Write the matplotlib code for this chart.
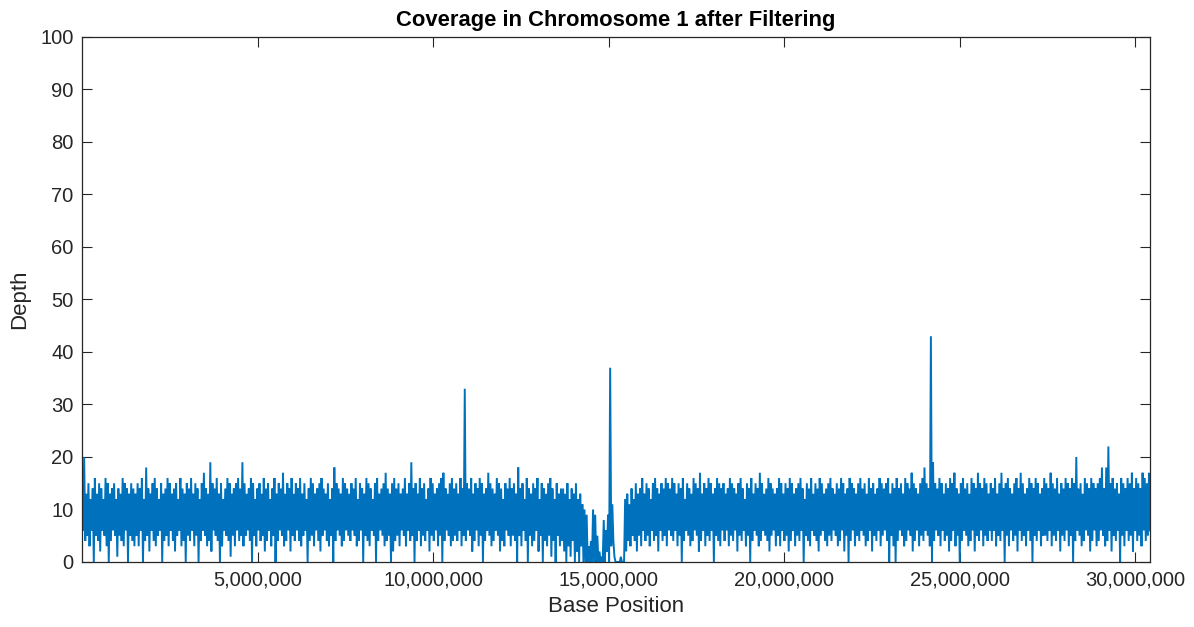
import numpy as np
import matplotlib.pyplot as plt
from matplotlib.ticker import FuncFormatter

# Chromosome 1 length and tick positions
CHROM_LEN = 30427671
xtick_pos = [5000000, 10000000, 15000000, 20000000, 25000000, 30000000]
ytick_pos = [0, 10, 20, 30, 40, 50, 60, 70, 80, 90, 100]

# Depth trace read off the picture as alternating local highs / lows
# (one high + one low per ~61 kb window, 500 windows along the chromosome)
peaks = [
    14, 20, 13, 15, 12, 14, 16, 13, 15, 14, 12, 16, 15, 13, 14, 15, 12, 14, 13, 16, 15, 14, 13, 15, 14,
    13, 15, 14, 16, 12, 18, 14, 13, 15, 16, 14, 12, 15, 13, 14, 16, 15, 13, 14, 15, 12, 16, 14, 13, 15,
    14, 16, 13, 15, 14, 12, 15, 17, 14, 13, 19, 15, 14, 16, 13, 15, 12, 14, 16, 15, 13, 14, 15, 16, 14,
    19, 15, 13, 14, 16, 15, 12, 14, 15, 13, 16, 14, 15, 12, 14, 16, 13, 15, 14, 17, 13, 15, 14, 16, 13,
    15, 14, 16, 13, 15, 12, 14, 16, 15, 13, 14, 15, 16, 14, 13, 15, 12, 14, 18, 15, 14, 13, 16, 15, 14,
    13, 15, 14, 16, 12, 15, 14, 13, 16, 15, 14, 12, 15, 16, 13, 14, 15, 17, 14, 13, 15, 16, 14, 15, 13,
    14, 16, 13, 15, 19, 14, 15, 13, 16, 14, 15, 12, 14, 16, 15, 13, 14, 15, 16, 17, 14, 13, 15, 16, 14,
    15, 13, 16, 14, 33, 15, 14, 16, 13, 15, 14, 16, 15, 13, 14, 17, 15, 14, 13, 16, 15, 14, 12, 15, 14,
    16, 14, 15, 13, 18, 14, 15, 12, 16, 14, 13, 15, 14, 16, 12, 15, 14, 13, 15, 16, 14, 12, 15, 13, 14,
    14, 13, 15, 12, 14, 13, 15, 12, 13, 11, 10, 9, 3, 4, 10, 9, 5, 2, 1, 8, 6, 9, 37, 11, 1,
    0, 0, 1, 0, 12, 13, 11, 14, 12, 15, 13, 14, 16, 13, 15, 14, 12, 15, 16, 14, 13, 15, 14, 16, 15,
    14, 16, 15, 13, 15, 14, 16, 12, 15, 14, 13, 16, 15, 14, 17, 13, 15, 14, 16, 15, 13, 14, 16, 15, 14,
    15, 13, 14, 16, 15, 14, 13, 15, 16, 14, 12, 15, 14, 16, 13, 15, 14, 17, 15, 13, 14, 16, 15, 14, 13,
    14, 16, 15, 13, 15, 14, 16, 15, 13, 14, 15, 16, 14, 12, 15, 14, 16, 13, 15, 14, 16, 15, 13, 14, 15,
    16, 14, 13, 15, 14, 16, 15, 13, 14, 16, 15, 14, 13, 15, 16, 14, 15, 13, 16, 14, 15, 13, 14, 16, 15,
    14, 15, 16, 13, 15, 14, 16, 14, 15, 13, 16, 15, 14, 17, 15, 14, 13, 15, 16, 18, 15, 14, 43, 19, 15,
    14, 16, 15, 13, 15, 14, 16, 15, 17, 14, 13, 15, 16, 14, 15, 13, 16, 15, 14, 17, 15, 14, 16, 15, 13,
    15, 14, 16, 13, 15, 17, 14, 15, 16, 14, 13, 15, 16, 14, 17, 15, 13, 14, 16, 15, 14, 16, 15, 13, 14,
    16, 15, 14, 17, 15, 14, 16, 13, 15, 14, 16, 15, 14, 16, 15, 20, 14, 15, 13, 16, 15, 14, 16, 15, 14,
    15, 16, 18, 14, 18, 22, 15, 16, 14, 15, 13, 16, 15, 14, 16, 15, 17, 14, 16, 15, 14, 17, 16, 15, 17,
]
troughs = [
    6, 4, 5, 3, 6, 0, 5, 4, 2, 6, 5, 3, 0, 4, 6, 5, 1, 5, 4, 3, 6, 0, 5, 4, 3,
    5, 3, 6, 0, 4, 5, 2, 6, 4, 3, 5, 6, 0, 4, 5, 3, 6, 4, 2, 5, 6, 3, 4, 0, 5,
    4, 6, 3, 5, 0, 4, 6, 5, 3, 4, 2, 6, 5, 4, 0, 3, 6, 5, 4, 1, 5, 3, 6, 4, 5,
    3, 5, 6, 4, 0, 5, 3, 6, 4, 5, 2, 4, 6, 3, 5, 0, 4, 6, 5, 3, 4, 6, 2, 5, 4,
    6, 4, 3, 5, 6, 0, 4, 5, 3, 6, 4, 2, 5, 6, 4, 3, 5, 0, 4, 6, 5, 3, 4, 6, 5,
    4, 6, 5, 3, 4, 6, 0, 5, 4, 3, 6, 5, 0, 4, 6, 5, 3, 4, 5, 0, 2, 4, 5, 3, 6,
    5, 3, 6, 4, 5, 0, 4, 6, 3, 5, 4, 6, 2, 5, 4, 6, 3, 5, 0, 4, 6, 5, 3, 4, 5,
    4, 6, 3, 5, 4, 6, 5, 2, 4, 6, 3, 5, 0, 4, 6, 5, 3, 4, 6, 5, 2, 4, 3, 6, 5,
    3, 5, 4, 0, 5, 3, 6, 4, 0, 5, 3, 4, 6, 2, 5, 0, 4, 3, 5, 1, 4, 0, 5, 3, 4,
    2, 0, 3, 1, 4, 0, 2, 0, 3, 0, 0, 0, 0, 0, 0, 0, 0, 0, 0, 0, 2, 0, 3, 4, 0,
    0, 0, 0, 0, 2, 4, 3, 5, 4, 2, 5, 3, 6, 4, 5, 3, 6, 4, 5, 2, 6, 4, 5, 3, 6,
    5, 4, 6, 3, 5, 0, 4, 6, 5, 3, 4, 6, 5, 2, 4, 6, 3, 5, 4, 6, 0, 5, 4, 3, 6,
    4, 6, 3, 5, 4, 6, 2, 5, 4, 6, 3, 5, 0, 4, 6, 5, 3, 4, 6, 5, 4, 2, 5, 6, 3,
    5, 3, 6, 4, 5, 2, 4, 6, 3, 5, 4, 6, 0, 5, 4, 3, 6, 5, 4, 2, 5, 6, 4, 3, 5,
    4, 6, 5, 3, 4, 6, 2, 5, 0, 4, 6, 3, 5, 4, 6, 5, 3, 4, 6, 2, 5, 4, 6, 3, 5,
    6, 4, 0, 5, 3, 0, 4, 6, 5, 3, 4, 6, 5, 2, 4, 6, 3, 5, 4, 6, 5, 3, 0, 4, 6,
    5, 3, 6, 4, 5, 2, 4, 6, 3, 5, 0, 4, 6, 5, 3, 4, 6, 2, 5, 4, 6, 3, 5, 4, 6,
    4, 6, 3, 5, 4, 6, 0, 5, 3, 6, 4, 5, 2, 6, 4, 5, 3, 6, 4, 0, 5, 4, 6, 3, 5,
    5, 4, 6, 3, 5, 4, 6, 2, 5, 4, 6, 3, 5, 0, 4, 6, 5, 3, 4, 6, 5, 2, 4, 6, 3,
    4, 6, 5, 3, 4, 6, 2, 5, 4, 6, 0, 5, 3, 6, 4, 5, 2, 6, 4, 5, 3, 6, 4, 5, 6,
]

# interleave highs and lows into one trace
depth = np.empty(2 * len(peaks))
depth[0::2] = peaks
depth[1::2] = troughs
pos = np.linspace(1, CHROM_LEN, len(depth))

AX_COLOR = '#262626'
plt.rcParams['font.family'] = ['Liberation Sans', 'DejaVu Sans']

fig = plt.figure(figsize=(11.94, 6.27), dpi=100)
ax = fig.add_axes([0.0687, 0.1037, 0.8945, 0.8373])
ax.plot(pos, depth, color='#0072BD', lw=1.4, solid_joinstyle='miter')

ax.set_xlim(1, CHROM_LEN)
ax.set_ylim(0, 100)
ax.set_xticks(xtick_pos)
ax.set_yticks(ytick_pos)
ax.xaxis.set_major_formatter(FuncFormatter(lambda v, p: f'{int(v):,}'))
ax.tick_params(direction='in', length=7, width=0.8, colors=AX_COLOR,
               labelsize=14.5, top=True, right=True, pad=6)
for s in ax.spines.values():
    s.set_color(AX_COLOR)
    s.set_linewidth(0.9)

ax.set_title('Coverage in Chromosome 1 after Filtering', fontsize=15.8,
             fontweight='bold', pad=8, color='black')
ax.set_xlabel('Base Position', fontsize=16, color=AX_COLOR, labelpad=5)
ax.set_ylabel('Depth', fontsize=16, color=AX_COLOR, labelpad=7)

fig.savefig('out.png', dpi=100)
